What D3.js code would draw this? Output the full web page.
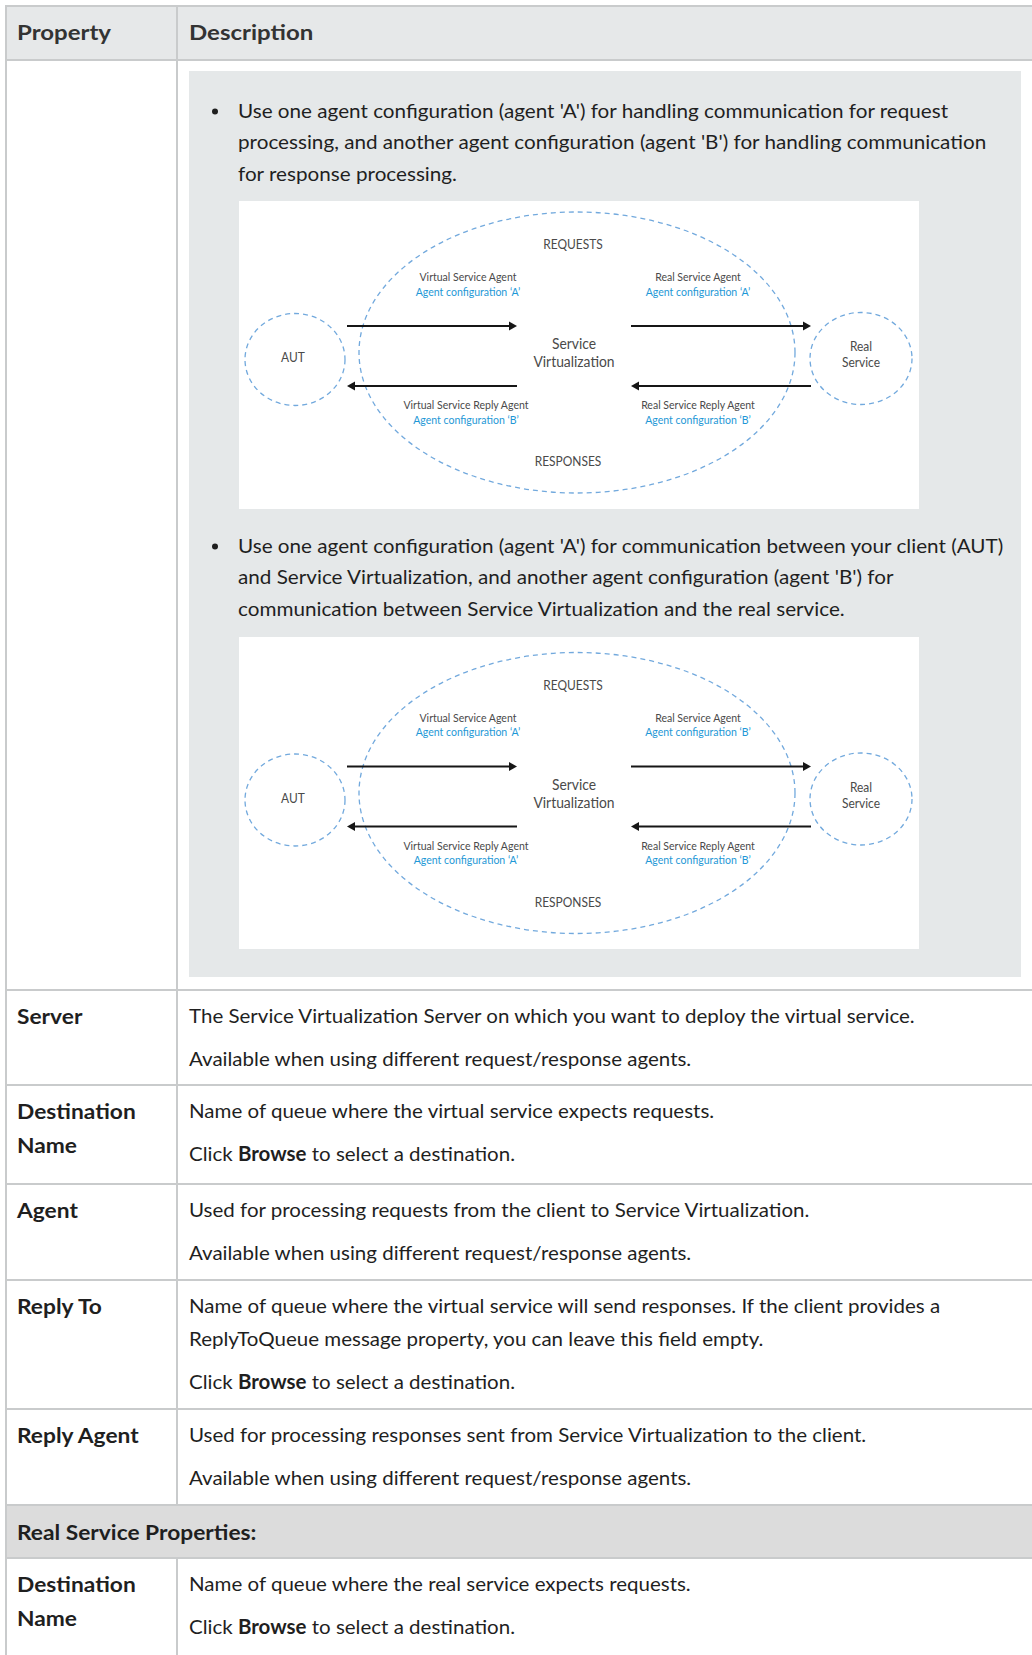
<!DOCTYPE html>
<html><head><meta charset="utf-8">
<script src="https://cdn.jsdelivr.net/npm/d3@7"></script>
<style>html,body{margin:0;padding:0;background:#fff}svg{display:block}</style>
</head><body>
<svg id="c" width="1032" height="1655"></svg>
<script>
// ---------- data ----------
const headerLabels = ["Property", "Description"];
const bulletLines = [
  ["Use one agent configuration (agent 'A') for handling communication for request",
   "processing, and another agent configuration (agent 'B') for handling communication",
   "for response processing."],
  ["Use one agent configuration (agent 'A') for communication between your client (AUT)",
   "and Service Virtualization, and another agent configuration (agent 'B') for",
   "communication between Service Virtualization and the real service."]
];
const agentNames = ["Virtual Service Agent", "Real Service Agent", "Virtual Service Reply Agent", "Real Service Reply Agent"];
const agentConfigs = [["A", "A", "B", "B"], ["A", "B", "A", "B"]];
const flowLabels = ["REQUESTS", "RESPONSES"];
const nodeLabels = [["AUT"], ["Service", "Virtualization"], ["Real", "Service"]];
const propertyLabels = [["Server"], ["Destination", "Name"], ["Agent"], ["Reply To"], ["Reply Agent"], ["Destination", "Name"]];
const propertyDescriptions = [
  [["The Service Virtualization Server on which you want to deploy the virtual service."],
   ["Available when using different request/response agents."]],
  [["Name of queue where the virtual service expects requests."],
   ["Click **Browse** to select a destination."]],
  [["Used for processing requests from the client to Service Virtualization."],
   ["Available when using different request/response agents."]],
  [["Name of queue where the virtual service will send responses. If the client provides a",
    "ReplyToQueue message property, you can leave this field empty."],
   ["Click **Browse** to select a destination."]],
  [["Used for processing responses sent from Service Virtualization to the client."],
   ["Available when using different request/response agents."]],
  [["Name of queue where the real service expects requests."],
   ["Click **Browse** to select a destination."]]
];
const sectionTitle = "Real Service Properties:";

// ---------- layout ----------
const FONT = "Lato, 'Open Sans', 'Noto Sans', sans-serif";
const W = 1032;
const tableL = 6, tableR = 1033, colX = 177;
const headerTop = 6, headerBot = 60;
const rowTops = [990, 1085, 1184, 1280, 1409];
const bandTop = 1505, bandBot = 1558;
const lastRowTop = 1558;
const borderCol = "#c9cbcc";
const textCol = "#1f1f1f";

const svg = d3.select("#c");
svg.append("rect").attr("width", W).attr("height", 1655).attr("fill", "#fff");

function measure(str, size, weight) {
  const t = svg.append("text").attr("font-family", FONT).attr("font-size", size)
    .attr("font-weight", weight).text(str.replace(/\*\*/g, ""));
  const w = t.node().getComputedTextLength();
  t.remove();
  return w;
}
const kBody = 1.01 * 718.5 / measure(propertyDescriptions[0][0][0], 20, 400);
const kBullet = kBody * 1.008;
const kBold = 1.015 * 117 / measure("Destination", 20, 700);
const kHead = 94 / measure(headerLabels[0], 20, 700);
const kDiag = 97 / measure(agentNames[0], 11, 400);

function richText(g, str, x, y, size, weight, fill, k, anchor) {
  const t = g.append("text").attr("x", x).attr("y", y)
    .attr("font-family", FONT).attr("font-size", size).attr("font-weight", weight)
    .attr("fill", fill).attr("text-anchor", anchor || "start");
  const parts = str.split("**");
  parts.forEach((p, i) => {
    if (!p) return;
    t.append("tspan").attr("font-weight", i % 2 ? 700 : weight).text(p);
  });
  const w = t.node().getComputedTextLength();
  t.attr("textLength", w * k).attr("lengthAdjust", "spacingAndGlyphs");
  return t;
}

// ---------- table backgrounds ----------
svg.append("rect").attr("x", tableL).attr("y", headerTop).attr("width", tableR - tableL).attr("height", headerBot - headerTop).attr("fill", "#e6e8e9");
svg.append("rect").attr("x", tableL).attr("y", bandTop).attr("width", tableR - tableL).attr("height", bandBot - bandTop).attr("fill", "#dcdcdc");
svg.append("rect").attr("x", 189).attr("y", 71).attr("width", 1021 - 189).attr("height", 977 - 71).attr("fill", "#e5e8e9");

// ---------- borders ----------
const hLines = [headerTop, headerBot, ...rowTops, bandTop, bandBot];
svg.selectAll("line.h").data(hLines).join("line").attr("class", "h")
  .attr("x1", tableL - 1).attr("x2", tableR).attr("y1", d => d).attr("y2", d => d)
  .attr("stroke", borderCol).attr("stroke-width", 2);
svg.append("line").attr("x1", tableL).attr("x2", tableL).attr("y1", headerTop).attr("y2", 1655).attr("stroke", borderCol).attr("stroke-width", 2);
svg.append("line").attr("x1", colX).attr("x2", colX).attr("y1", headerTop).attr("y2", bandTop).attr("stroke", borderCol).attr("stroke-width", 2);
svg.append("line").attr("x1", colX).attr("x2", colX).attr("y1", bandBot).attr("y2", 1655).attr("stroke", borderCol).attr("stroke-width", 2);

// ---------- header ----------
const gHead = svg.append("g");
headerLabels.forEach((h, i) => richText(gHead, h, i ? 189 : 17, 40, 20, 700, "#333", kHead));

// ---------- bullets ----------
const bulletTops = [117.5, 552.5];
bulletLines.forEach((lines, bi) => {
  const g = svg.append("g");
  g.append("circle").attr("cx", 215).attr("cy", bulletTops[bi] - 6).attr("r", 3).attr("fill", textCol);
  lines.forEach((ln, li) => richText(g, ln, 238, bulletTops[bi] + li * 31.8, 20, 400, textCol, kBullet));
});

// ---------- diagrams ----------
const diagBoxes = [{ y: 201, h: 308, cy: 352.5 }, { y: 637, h: 312, cy: 793 }];
const dashCol = "#72a9dd", blue = "#1e98d6", greyTxt = "#4a4a4a";
function arrow(g, x1, x2, y) {
  const dir = Math.sign(x2 - x1);
  const tip = x2, base = x2 - dir * 8;
  g.append("line").attr("x1", x1).attr("x2", base).attr("y1", y).attr("y2", y)
    .attr("stroke", "#161616").attr("stroke-width", 2);
  g.append("path").attr("d", d3.line()([[tip, y], [base, y - 4.5], [base, y + 4.5]]) + "Z").attr("fill", "#161616");
}
diagBoxes.forEach((b, di) => {
  const g = svg.append("g");
  g.append("rect").attr("x", 239).attr("y", b.y).attr("width", 680).attr("height", b.h).attr("fill", "#fff");
  const cy = b.cy;
  const ell = [[577, cy, 218, 140.5], [295, cy + 7, 50, 46], [861, cy + 6, 51, 46]];
  g.selectAll("ellipse").data(ell).join("ellipse")
    .attr("cx", d => d[0]).attr("cy", d => d[1]).attr("rx", d => d[2]).attr("ry", d => d[3])
    .attr("fill", "none").attr("stroke", dashCol).attr("stroke-width", 1.3).attr("stroke-dasharray", "5,4");
  arrow(g, 347, 517, cy - 26.5);
  arrow(g, 631, 811, cy - 26.5);
  arrow(g, 517, 347, cy + 33.5);
  arrow(g, 811, 631, cy + 33.5);
  richText(g, flowLabels[0], 573, cy - 103.5, 12.5, 400, greyTxt, kDiag, "middle");
  richText(g, flowLabels[1], 568, cy + 113.5, 12.5, 400, greyTxt, kDiag, "middle");
  const agentPos = [[468, -71.5], [698, -71.5], [466, 56.5], [698, 56.5]];
  agentNames.forEach((a, ai) => {
    const [x, dy] = agentPos[ai];
    richText(g, a, x, cy + dy, 11, 400, greyTxt, kDiag, "middle");
    richText(g, "Agent configuration \u2018" + agentConfigs[di][ai] + "\u2019", x, cy + dy + 14.5, 11, 400, blue, kDiag, "middle");
  });
  richText(g, nodeLabels[0][0], 293, cy + 9.5, 12.5, 400, greyTxt, kDiag, "middle");
  nodeLabels[1].forEach((t, i) => richText(g, t, 574, cy - 3.5 + i * 18, 14.5, 400, greyTxt, kDiag, "middle"));
  nodeLabels[2].forEach((t, i) => richText(g, t, 861, cy - 1.5 + i * 16, 12.5, 400, greyTxt, kDiag, "middle"));
});

// ---------- property rows ----------
const allTops = [...rowTops, lastRowTop];
propertyLabels.forEach((labels, ri) => {
  const g = svg.append("g");
  const top = allTops[ri];
  labels.forEach((l, li) => richText(g, l, 17, top + 34 + li * 34, 20, 700, textCol, kBold));
  let y = top + 33;
  propertyDescriptions[ri].forEach((para, pi) => {
    if (pi > 0) y += 43;
    para.forEach((ln, li) => {
      if (li > 0) y += 33;
      richText(g, ln, 189, y, 20, 400, textCol, kBody);
    });
  });
});
richText(svg.append("g"), sectionTitle, 17, 1540, 20, 700, textCol, kBold);
</script>
</body></html>
